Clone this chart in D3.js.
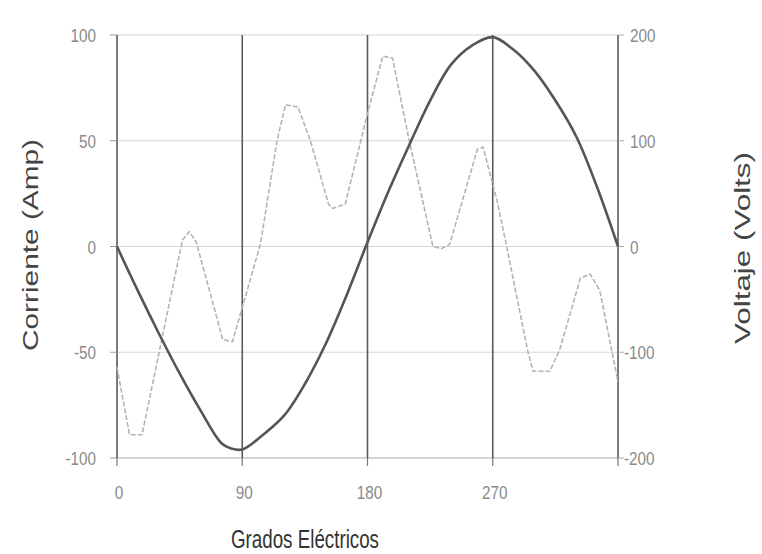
<!DOCTYPE html>
<html><head><meta charset="utf-8">
<script src="https://cdn.jsdelivr.net/npm/d3@7"></script>
<style>body{margin:0;background:#fff}</style>
</head><body>
<svg id="chart" width="762" height="554"></svg>
<script>
// Voltage (right axis, Volts) — degrees and values
const voltDeg = [0,15,30,45,60,75,82,90,105,120,135,150,165,180,195,210,225,240,255,270,285,300,315,330,345,360];
const voltVal = [0,-42,-82,-120,-155,-186,-191,-192,-178,-160,-130,-92,-46,4,52,96,138,172,190,198,186,166,138,104,56,0];
// Current (left axis, Amp)
const currDeg = [0,9,18,47,52,57,76,83,103,115,121,130,139,152,155,164,180,191,198,210,227,233,239,259,263,273,280,295,299,311,318,333,340,347,360];
const currVal = [-57,-89,-89,3,7,2,-44,-45,1,50,67,66,50,20,18,20,63,90,89,50,0,-1,1,46,47,22,0,-49,-59,-59,-49,-15,-13,-21,-64];
const xTicks = [0,90,180,270];
const xGrid = [0,90,180,270,360];
const leftTicks = [100,50,0,-50,-100];
const rightTicks = [200,100,0,-100,-200];

const svg = d3.select("#chart");
const x = d3.scaleLinear().domain([0,360]).range([117,618]);
const yL = d3.scaleLinear().domain([-100,100]).range([458,35]);
const yR = d3.scaleLinear().domain([-200,200]).range([458,35]);

const font = "'Liberation Sans',Arial,sans-serif";
const labW = s => { s = String(s); return s.replace("-","").length * 8.5 + (s.includes("-") ? 5 : 0); };

// horizontal grid
svg.append("g").selectAll("line").data(leftTicks).join("line")
  .attr("x1", x(0)).attr("x2", x(360))
  .attr("y1", d => yL(d)).attr("y2", d => yL(d))
  .attr("stroke", d => d === -100 ? "#aaa" : "#d6d6d6").attr("stroke-width", 1.2);

// vertical lines
svg.append("g").selectAll("line").data(xGrid).join("line")
  .attr("x1", d => x(d)).attr("x2", d => x(d))
  .attr("y1", yL(100)).attr("y2", yL(-100))
  .attr("stroke", "#5a5a5a").attr("stroke-width", 1.6);

// left axis ticks
svg.append("g").selectAll("line").data(leftTicks).join("line")
  .attr("x1", x(0) - 7).attr("x2", x(0))
  .attr("y1", d => yL(d)).attr("y2", d => yL(d))
  .attr("stroke", "#999").attr("stroke-width", 1);
// right axis ticks
svg.append("g").selectAll("line").data(rightTicks).join("line")
  .attr("x1", x(360)).attr("x2", x(360) + 6)
  .attr("y1", d => yR(d)).attr("y2", d => yR(d))
  .attr("stroke", "#aaa").attr("stroke-width", 1);
// bottom ticks
svg.append("g").selectAll("line").data(xGrid).join("line")
  .attr("x1", d => x(d)).attr("x2", d => x(d))
  .attr("y1", yL(-100)).attr("y2", yL(-100) + 8)
  .attr("stroke", "#777").attr("stroke-width", 1.2);

// tick labels
svg.append("g").selectAll("text").data(leftTicks).join("text")
  .attr("x", 96).attr("y", d => yL(d) + 7)
  .attr("text-anchor", "end")
  .attr("font-family", font).attr("font-size", 19).attr("fill", "#8a8a8a")
  .attr("textLength", labW).attr("lengthAdjust", "spacingAndGlyphs")
  .text(d => d);
svg.append("g").selectAll("text").data(rightTicks).join("text")
  .attr("x", d => d < 0 ? 624 : 630).attr("y", d => yR(d) + 7)
  .attr("text-anchor", "start")
  .attr("font-family", font).attr("font-size", 19).attr("fill", "#8a8a8a")
  .attr("textLength", labW).attr("lengthAdjust", "spacingAndGlyphs")
  .text(d => d);
svg.append("g").selectAll("text").data(xTicks).join("text")
  .attr("x", d => x(d) + 2).attr("y", 499)
  .attr("text-anchor", "middle")
  .attr("font-family", font).attr("font-size", 19).attr("fill", "#8a8a8a")
  .attr("textLength", labW).attr("lengthAdjust", "spacingAndGlyphs")
  .text(d => d);

// series
const currData = currDeg.map((d,i) => [d, currVal[i]]);
const voltData = voltDeg.map((d,i) => [d, voltVal[i]]);

svg.append("path").datum(currData)
  .attr("d", d3.line().x(d => x(d[0])).y(d => yL(d[1])))
  .attr("fill", "none").attr("stroke", "#b4b4b4").attr("stroke-width", 1.6)
  .attr("stroke-dasharray", "5,2");

svg.append("path").datum(voltData)
  .attr("d", d3.line().curve(d3.curveCatmullRom).x(d => x(d[0])).y(d => yR(d[1])))
  .attr("fill", "none").attr("stroke", "#555").attr("stroke-width", 2.6);

// axis titles
svg.append("text").attr("x", 305).attr("y", 548).attr("text-anchor", "middle")
  .attr("font-family", font).attr("font-size", 25).attr("fill", "#333")
  .attr("textLength", 148).attr("lengthAdjust", "spacingAndGlyphs")
  .text("Grados Eléctricos");
svg.append("text").attr("transform", "translate(38,245) rotate(-90)")
  .attr("text-anchor", "middle")
  .attr("font-family", font).attr("font-size", 22).attr("fill", "#444")
  .attr("textLength", 212).attr("lengthAdjust", "spacingAndGlyphs")
  .text("Corriente (Amp)");
svg.append("text").attr("transform", "translate(750,248) rotate(-90)")
  .attr("text-anchor", "middle")
  .attr("font-family", font).attr("font-size", 22).attr("fill", "#444")
  .attr("textLength", 192).attr("lengthAdjust", "spacingAndGlyphs")
  .text("Voltaje (Volts)");
</script>
</body></html>
